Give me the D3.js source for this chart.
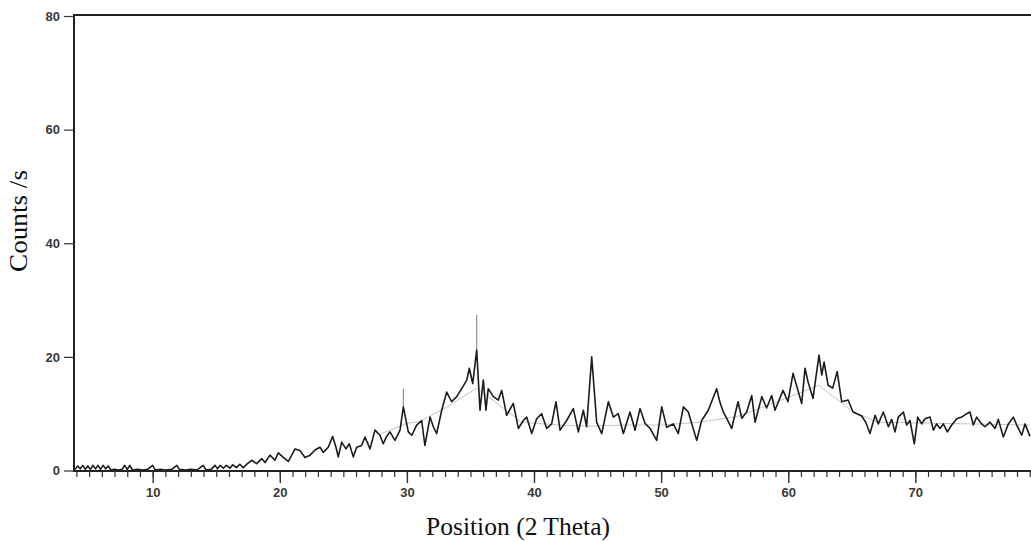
<!DOCTYPE html>
<html><head><meta charset="utf-8">
<script src="https://cdn.jsdelivr.net/npm/d3@7"></script>
<style>body{margin:0;background:#fff}svg{display:block}</style>
</head><body>
<svg id="chart" width="1031" height="541"></svg>
<script>
// ---- data ----
const twoTheta = [3.90,4.10,4.30,4.50,4.70,4.90,5.10,5.30,5.50,5.70,5.90,6.10,6.30,6.50,6.70,7.00,7.30,7.60,7.80,8.00,8.20,8.40,8.80,9.20,9.60,10.00,10.20,10.60,11.00,11.50,11.90,12.10,12.60,13.00,13.50,13.98,14.20,14.60,14.90,15.10,15.30,15.56,15.80,16.08,16.30,16.60,16.85,17.13,17.45,
17.79,18.18,18.58,18.84,19.23,19.62,19.88,20.28,20.67,20.94,21.20,21.59,21.98,22.38,22.77,23.16,23.42,23.81,24.16,24.42,24.60,24.87,25.21,25.47,25.78,26.05,26.44,26.70,27.10,27.49,27.88,28.14,28.40,28.67,29.06,29.46,29.72,
30.11,30.38,30.77,31.16,31.42,31.82,32.08,32.34,32.74,33.13,33.52,33.92,34.31,34.71,34.91,35.18,35.49,35.75,36.01,36.22,36.40,36.80,37.19,37.46,37.85,38.37,38.77,39.16,39.42,39.82,
40.21,40.60,41.00,41.39,41.73,42.05,42.57,43.09,43.49,43.88,44.14,44.54,44.93,45.33,45.85,46.24,46.63,47.03,47.55,47.95,48.34,48.73,49.13,49.65,
50.05,50.44,50.96,51.35,51.75,52.14,52.40,52.80,53.19,53.71,54.37,54.63,54.89,55.20,55.55,56.05,56.35,56.73,57.13,57.39,57.92,58.30,58.70,58.96,59.59,59.98,
60.38,61.06,61.32,61.56,61.95,62.42,62.64,62.82,63.14,63.50,63.85,64.21,64.71,65.10,65.78,66.10,66.43,66.83,67.09,67.48,67.88,68.14,68.40,68.66,69.06,69.32,69.58,69.92,
70.19,70.50,70.76,71.16,71.42,71.68,71.94,72.20,72.52,72.86,73.26,73.65,74.04,74.30,74.56,74.83,75.22,75.48,75.88,76.27,76.53,76.92,77.32,77.71,77.98,78.37,78.63,79.02];
const counts = [0.2,0.8,0.3,0.9,0.2,0.8,0.2,0.9,0.3,0.9,0.2,0.9,0.3,0.8,0.1,0.2,0.1,0.2,0.9,0.2,0.9,0.1,0.2,0.1,0.2,0.9,0.1,0.2,0.1,0.2,0.9,0.2,0.1,0.2,0.1,0.9,0.1,0.2,0.9,0.3,0.9,0.4,0.9,0.4,1.0,0.5,1.1,0.5,1.2,
1.8,1.2,2.1,1.4,2.7,1.8,3.1,2.3,1.6,2.7,3.8,3.5,2.3,2.7,3.6,4.1,3.2,4.1,6.0,4.1,2.4,5.0,3.8,4.7,2.4,4.1,4.4,5.9,3.8,7.1,6.2,4.7,6.0,6.8,5.3,7.1,11.2,
6.8,6.2,8.0,8.8,4.4,9.4,7.7,6.5,10.6,13.8,12.1,13.0,14.4,15.9,18.0,15.3,21.2,10.6,15.9,10.6,14.4,13.0,12.4,14.1,9.7,11.8,7.4,8.8,9.4,6.5,
9.1,10.0,7.4,8.2,12.1,7.1,8.8,10.9,6.8,10.6,7.7,20.0,8.5,6.5,12.1,9.4,10.0,6.5,10.3,7.1,10.9,8.3,7.4,5.3,
11.2,7.6,8.2,6.5,11.2,10.3,8.3,5.3,8.8,10.6,14.4,12.0,10.3,9.0,7.4,12.1,9.2,10.3,13.2,8.5,13.0,11.0,13.2,10.6,14.1,12.1,
17.1,11.8,18.0,15.6,12.7,20.3,16.8,19.1,15.0,14.5,17.4,12.1,12.4,10.3,9.6,8.5,6.5,9.7,8.2,10.3,7.7,9.0,6.8,9.4,10.3,8.0,8.8,4.7,
9.4,8.2,9.1,9.4,7.1,8.2,7.4,8.2,6.8,8.0,9.1,9.4,10.0,10.3,8.0,9.4,8.2,7.7,8.5,7.4,9.0,5.9,8.2,9.4,8.0,6.2,8.2,6.0];
// reference peak sticks (position, top count)
const stickPos = [29.72, 35.49];
const stickTop = [14.4, 27.4];
// faint background curve
const bgTheta = [28,30,31,33,35.5,37,39,42,44.5,47,50,53,56,59,62.4,65,67,79];
const bgCounts = [6.5,8.3,8.6,11,14.5,12,8.5,8,7.8,8,8,8.5,9.5,12,15,10.5,8.5,8];
const yTicks = [0,20,40,60,80];
const xMajor = [10,20,30,40,50,60,70];
const xMinor = d3.range(4,80,1);

// ---- layout ----
const svg = d3.select("#chart");
const x = d3.scaleLinear().domain([3.81, 79.1]).range([74, 1031]);
const y = d3.scaleLinear().domain([0, 80]).range([470.5, 16]);

// background line
svg.append("path")
  .attr("d", d3.line().x((d,i)=>x(bgTheta[i])).y((d,i)=>y(bgCounts[i]))(bgTheta))
  .attr("fill","none").attr("stroke","#b5b5b5").attr("stroke-width",0.8);

// sticks
svg.selectAll("line.stick").data(stickPos).enter().append("line")
  .attr("class","stick")
  .attr("x1",d=>x(d)).attr("x2",d=>x(d))
  .attr("y1",(d,i)=>y(stickTop[i])).attr("y2",(d,i)=>y(counts[twoTheta.indexOf(d)]))
  .attr("stroke","#8a8a8a").attr("stroke-width",1.1);

// trace
svg.append("path")
  .attr("d", d3.line().x((d,i)=>x(twoTheta[i])).y((d,i)=>y(counts[i]))(twoTheta))
  .attr("fill","none").attr("stroke","#1c1c1c").attr("stroke-width",1.6)
  .attr("stroke-linejoin","round");

// axes frame
svg.append("line").attr("x1",73).attr("x2",1031).attr("y1",15).attr("y2",15)
  .attr("stroke","#222").attr("stroke-width",2);
svg.append("line").attr("x1",74).attr("x2",74).attr("y1",14).attr("y2",471.5)
  .attr("stroke","#222").attr("stroke-width",2);
svg.append("line").attr("x1",73).attr("x2",1031).attr("y1",471).attr("y2",471)
  .attr("stroke","#222").attr("stroke-width",2);

// y axis
const yAxis = d3.axisLeft(y).tickValues(yTicks).tickSize(10).tickPadding(4);
const gy = svg.append("g").attr("transform","translate(74,0)").call(yAxis);
gy.select(".domain").remove();
gy.selectAll(".tick line").attr("stroke","#333").attr("stroke-width",1.2);
gy.selectAll(".tick text").attr("font-family","Liberation Sans, Arial, sans-serif")
  .attr("font-size",13).attr("font-weight","bold").attr("fill","#3a3a3a");

// x minor
const gxm = svg.append("g").attr("transform","translate(0,471)")
  .call(d3.axisBottom(x).tickValues(xMinor).tickSize(6).tickFormat(""));
gxm.select(".domain").remove();
gxm.selectAll(".tick line").attr("stroke","#333").attr("stroke-width",1.2);
// x major
const gx = svg.append("g").attr("transform","translate(0,471)")
  .call(d3.axisBottom(x).tickValues(xMajor).tickSize(12).tickPadding(5));
gx.select(".domain").remove();
gx.selectAll(".tick line").attr("stroke","#333").attr("stroke-width",1.4);
gx.selectAll(".tick text").attr("font-family","Liberation Sans, Arial, sans-serif")
  .attr("font-size",13).attr("font-weight","bold").attr("fill","#3a3a3a");

// titles
svg.append("text").attr("x",518).attr("y",535).attr("text-anchor","middle")
  .attr("font-family","Liberation Serif, Times New Roman, serif").attr("font-size",25)
  .attr("textLength",184).attr("lengthAdjust","spacingAndGlyphs")
  .attr("fill","#111").text("Position (2 Theta)");
svg.append("text").attr("transform","translate(27,221) rotate(-90)").attr("text-anchor","middle")
  .attr("font-family","Liberation Serif, Times New Roman, serif").attr("font-size",25)
  .attr("textLength",102).attr("lengthAdjust","spacingAndGlyphs")
  .attr("fill","#111").text("Counts /s");
</script>
</body></html>
